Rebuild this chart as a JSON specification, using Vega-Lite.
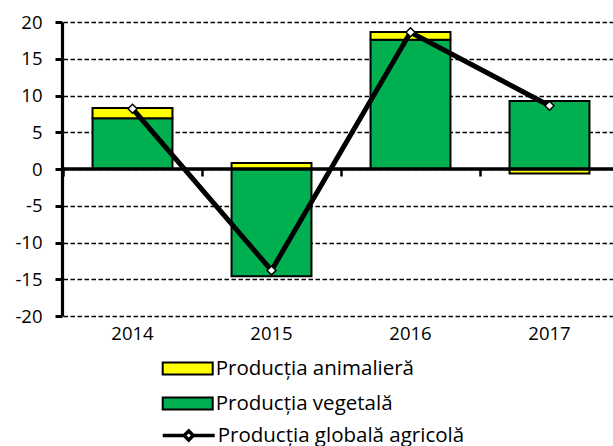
{
  "$schema": "https://vega.github.io/schema/vega-lite/v6.json",
  "width": 551,
  "height": 294,
  "autosize": {"type": "none"},
  "padding": {"left": 62, "top": 22, "right": 0, "bottom": 130},
  "config": {
    "view": {"stroke": null},
    "font": "Open Sans",
    "axisY": {"values": [-20, -15, -10, -5, 0, 5, 10, 15, 20], "labelExpr": "'' + datum.value", "labelOverlap": false, "grid": true, "gridDash": [4.5, 2.5], "gridColor": "black", "gridWidth": 1.7, "gridOpacity": 1, "domainColor": "black", "domainWidth": 3.2, "tickColor": "black", "tickWidth": 3, "tickSize": 7, "labelFontSize": 18.5, "labelColor": "black", "labelPadding": 13, "title": null}
  },
  "datasets": {
    "bars": [
      {"year": "2014", "series": "Producția vegetală", "value": 6.9, "ord": 1},
      {"year": "2014", "series": "Producția animalieră", "value": 1.4, "ord": 2},
      {"year": "2015", "series": "Producția vegetală", "value": -14.6, "ord": 1},
      {"year": "2015", "series": "Producția animalieră", "value": 0.8, "ord": 2},
      {"year": "2016", "series": "Producția vegetală", "value": 17.6, "ord": 1},
      {"year": "2016", "series": "Producția animalieră", "value": 1.05, "ord": 2},
      {"year": "2017", "series": "Producția vegetală", "value": 9.25, "ord": 1},
      {"year": "2017", "series": "Producția animalieră", "value": -0.6, "ord": 2}
    ],
    "line": [
      {"year": "2014", "series": "Producția globală agricolă", "value": 8.2},
      {"year": "2015", "series": "Producția globală agricolă", "value": -13.8},
      {"year": "2016", "series": "Producția globală agricolă", "value": 18.6},
      {"year": "2017", "series": "Producția globală agricolă", "value": 8.6}
    ],
    "zero": [{"value": 0}]
  },
  "resolve": {"axis": {"x": "independent"}},
  "layer": [
    {
      "data": {"name": "bars"},
      "mark": {"type": "bar", "stroke": "black", "strokeWidth": 2, "width": {"band": 0.575}},
      "encoding": {
        "x": {
          "field": "year", "type": "nominal",
          "scale": {"range": [1, 557], "paddingInner": 0, "paddingOuter": 0},
          "axis": {"orient": "bottom", "title": null, "labelAngle": 0, "ticks": false, "domain": false, "labelFontSize": 18.5, "labelColor": "black", "labelPadding": 8}
        },
        "y": {
          "field": "value", "type": "quantitative", "stack": "zero", "title": null,
          "scale": {"domain": [-20, 20], "nice": false}
        },
        "fill": {
          "field": "series", "type": "nominal",
          "scale": {"domain": ["Producția animalieră", "Producția vegetală"], "range": ["#ffff00", "#00b050"]},
          "legend": {"orient": "none", "legendX": 114.7, "legendY": 335.5, "title": null, "symbolType": "M-2.5,-0.6H2.5V0.6H-2.5Z", "symbolSize": 400, "symbolStrokeColor": "black", "symbolStrokeWidth": 2, "symbolOpacity": 1, "labelFontSize": 20.5, "labelColor": "black", "labelOffset": 17, "labelLimit": 400, "rowPadding": 13, "padding": 0}
        },
        "order": {"field": "ord", "type": "quantitative"}
      }
    },
    {
      "data": {"name": "zero"},
      "mark": {"type": "rule", "color": "black", "strokeWidth": 3.5},
      "encoding": {"y": {"field": "value", "type": "quantitative", "title": null}}
    },
    {
      "data": {"name": "line"},
      "mark": {"type": "line", "strokeWidth": 5},
      "encoding": {
        "x": {
          "field": "year", "type": "nominal",
          "axis": {"orient": "bottom", "offset": -147, "labels": false, "domain": false, "ticks": true, "tickBand": "extent", "tickSize": 7, "tickWidth": 2.5, "tickColor": "black", "grid": false, "title": null}
        },
        "y": {"field": "value", "type": "quantitative", "title": null},
        "stroke": {
          "field": "series", "type": "nominal",
          "scale": {"domain": ["Producția globală agricolă"], "range": ["black"]},
          "legend": {"orient": "none", "legendX": 114.7, "legendY": 401.5, "title": null, "symbolType": "M-2.6,0H-0.45M0.45,0H2.6M-0.45,0L0,-0.45L0.45,0L0,0.45Z", "symbolSize": 400, "symbolStrokeColor": "black", "symbolStrokeWidth": 3.5, "symbolFillColor": "white", "labelFontSize": 20.5, "labelColor": "black", "labelOffset": 17, "labelLimit": 400, "padding": 0, "encode": {"symbols": {"update": {"fill": {"value": "white"}, "fillOpacity": {"value": 1}}}}}
        }
      }
    },
    {
      "data": {"name": "line"},
      "mark": {"type": "point", "shape": "diamond", "filled": true, "fill": "white", "stroke": "black", "strokeWidth": 1.5, "size": 80, "opacity": 1},
      "encoding": {
        "x": {"field": "year", "type": "nominal", "axis": null},
        "y": {"field": "value", "type": "quantitative", "title": null}
      }
    }
  ]
}
